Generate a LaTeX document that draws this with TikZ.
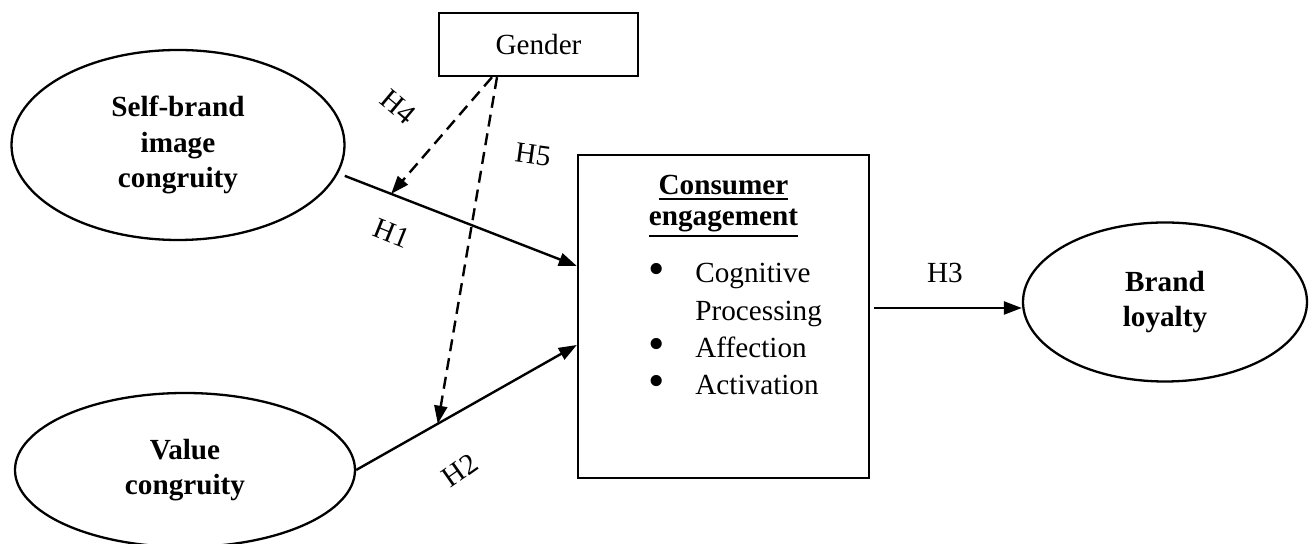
\documentclass[tikz,border=0pt]{standalone}
\usepackage{fontspec}
\usepackage{graphicx}
\setmainfont{Liberation Serif}
\usetikzlibrary{arrows.meta,shapes.geometric}
\newcommand{\bul}{\makebox[23.5pt][l]{\raisebox{-1pt}{\scalebox{1.6}{\textbullet}}}}
\newcommand{\nobul}{\makebox[23.5pt][l]{}}
\newcommand{\thul}[1]{\setbox0\hbox{#1}\leavevmode\rlap{\rule[\dimexpr-\dp0-2.2pt\relax]{\wd0}{1pt}}\box0}
\begin{document}
\begin{tikzpicture}[x=0.5pt,y=-0.5pt,
  every node/.style={inner sep=0pt, font=\fontsize{14.6}{18}\selectfont},
  ell/.style={draw, ellipse, line width=1.15pt, align=center, font=\fontsize{14.6}{17.8}\selectfont\bfseries},
  boxn/.style={draw, rectangle, line width=1.2pt},
  arr/.style={line width=1.2pt, -{Triangle[length=9pt,width=6.5pt]}},
  darr/.style={arr, dash pattern=on 6pt off 3.5pt},
  lab/.style={font=\fontsize{14.6}{18}\selectfont}]
\useasboundingbox (0,0) rectangle (1314,544);

% main nodes
\node[boxn, minimum width=99.5pt, minimum height=31.5pt] (gd) at (538.5,44.5) {Gender};
\node[ell, minimum width=166.5pt, minimum height=95pt] (sb) at (178,145) {Self-brand\\image\\congruity};
\node[ell, minimum width=170pt, minimum height=77pt] (vc) at (185,470) {Value\\congruity};
\node[boxn, minimum width=145.5pt, minimum height=161.5pt] (ce) at (723.5,316.5) {};
\node[ell, minimum width=142pt, minimum height=79.5pt] (bl) at (1165,302) {Brand\\loyalty};

% content of consumer engagement box
\node[anchor=base, font=\fontsize{14.6}{15.5}\selectfont\bfseries] (cet) at (723.5,195)
  {\begin{tabular}[t]{@{}c@{}}\thul{Consumer}\\\thul{engagement}\end{tabular}};
\node[anchor=base west, font=\fontsize{14.6}{18.6}\selectfont] (cel) at (648,283)
  {\begin{tabular}[t]{@{}l@{}}\bul Cognitive\\\nobul Processing\\\bul Affection\\\bul Activation\end{tabular}};

% connectors
\draw[arr] ([xshift=4pt]sb.-11) -- ([yshift=25.25pt]ce.west) coordinate[pos=0.2] (h1m);
\draw[arr] (vc.east) -- ([yshift=-14.25pt]ce.west) coordinate[pos=0.37] (h2m);
\path ([yshift=-3pt]bl.west) coordinate (h3e);
\draw[arr, shorten <=2pt] (ce.east |- h3e) -- (h3e);
\draw[darr] ([xshift=-23.25pt]gd.south) -- (h1m);
\draw[darr] ([xshift=-20.75pt]gd.south) -- (h2m);

% labels
\node[lab, rotate=-40] (l4) at (398,107) {H4};
\node[lab, rotate=-8] (l5) at (533,155) {H5};
\node[lab, rotate=-22] (l1) at (392,233) {H1};
\node[lab, rotate=35] (l2) at (460,470) {H2};
\node[lab] (l3) at (945,273) {H3};
\end{tikzpicture}
\end{document}
